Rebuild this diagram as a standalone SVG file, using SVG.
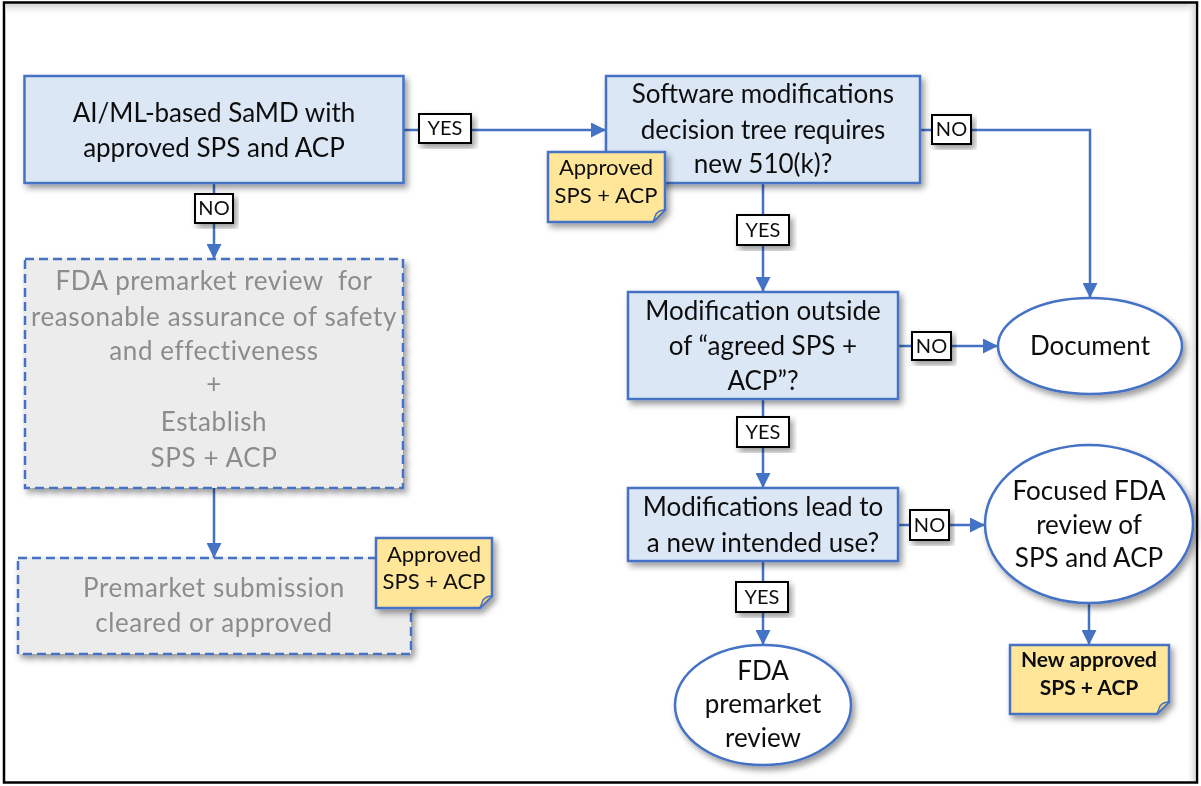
<svg xmlns="http://www.w3.org/2000/svg" width="1201" height="786" viewBox="0 0 1201 786">
<defs>
<style>
.proc{fill:#dce7f5;stroke:#4472c4;stroke-width:2.5}
.gray{fill:#ececec;stroke:#4472c4;stroke-width:2.5;stroke-dasharray:9 5}
.ell{fill:#ffffff;stroke:#4472c4;stroke-width:2.5}
.note{fill:#ffe699;stroke:#4472c4;stroke-width:2.5}
.fold{fill:#f0d27a;stroke:#4472c4;stroke-width:1.5}
.lab{fill:#ffffff;stroke:#000000;stroke-width:2}
.t{font-family:Lato,"Liberation Sans",sans-serif;font-size:26px;fill:#111111;text-anchor:middle}
.tg{font-family:Lato,"Liberation Sans",sans-serif;font-size:26px;fill:#8c8c8c;text-anchor:middle;letter-spacing:0.6px;white-space:pre}
.tn{font-family:Lato,"Liberation Sans",sans-serif;font-size:22px;fill:#111111;text-anchor:middle}
.tb{font-family:Lato,"Liberation Sans",sans-serif;font-size:21px;font-weight:bold;fill:#111111;text-anchor:middle}
.tl{font-family:Lato,"Liberation Sans",sans-serif;font-size:20px;fill:#111111;text-anchor:middle}
.conn{fill:none;stroke:#4472c4;stroke-width:2.5}
</style>
<marker id="arr" markerUnits="userSpaceOnUse" markerWidth="15" markerHeight="15" viewBox="0 0 10 10" refX="10" refY="5" orient="auto">
<path d="M0,0 L10,5 L0,10 z" fill="#4472c4"/>
</marker>
<filter id="sh" x="-10%" y="-10%" width="125%" height="130%">
<feDropShadow dx="3" dy="4" stdDeviation="3" flood-color="#000" flood-opacity="0.4"/>
</filter>
<linearGradient id="gt" x1="0" y1="0" x2="0" y2="1">
<stop offset="0" stop-color="#d4d4d4"/>
<stop offset="1" stop-color="#ffffff" stop-opacity="0"/>
</linearGradient>
<linearGradient id="gr" x1="0" y1="0" x2="1" y2="0">
<stop offset="0" stop-color="#ffffff" stop-opacity="0"/>
<stop offset="1" stop-color="#d4d4d4"/>
</linearGradient>
</defs>

<g id="frame">
<rect x="4" y="2.5" width="1193" height="780" fill="#ffffff" stroke="#000000" stroke-width="2.5"/>
<rect x="5.5" y="4" width="1190" height="12" fill="url(#gt)"/>
<rect x="1186" y="4" width="9.5" height="777" fill="url(#gr)"/>
</g>

<g id="connectors">
<path class="conn" d="M403.5,130 H606" marker-end="url(#arr)"/>
<path class="conn" d="M214,183 V259" marker-end="url(#arr)"/>
<path class="conn" d="M214,488 V558" marker-end="url(#arr)"/>
<path class="conn" d="M920,130 H1090 V298" marker-end="url(#arr)"/>
<path class="conn" d="M763,183 V292" marker-end="url(#arr)"/>
<path class="conn" d="M898,346 H998" marker-end="url(#arr)"/>
<path class="conn" d="M763,399 V488" marker-end="url(#arr)"/>
<path class="conn" d="M898,525 H985" marker-end="url(#arr)"/>
<path class="conn" d="M763,561 V645" marker-end="url(#arr)"/>
<path class="conn" d="M1089,603 V645" marker-end="url(#arr)"/>
</g>

<g id="n-samd" filter="url(#sh)">
<rect class="proc" x="24.5" y="76" width="379" height="107"/>
<text class="t" x="214" y="122">AI/ML-based SaMD with</text>
<text class="t" x="214" y="157">approved SPS and ACP</text>
</g>

<g id="n-fda-review" filter="url(#sh)">
<rect class="gray" x="25" y="259" width="378" height="229"/>
<text class="tg" x="214" y="290" xml:space="preserve">FDA premarket review  for</text>
<text class="tg" x="214" y="326">reasonable assurance of safety</text>
<text class="tg" x="214" y="360">and effectiveness</text>
<text class="tg" x="214" y="393">+</text>
<text class="tg" x="214" y="431">Establish</text>
<text class="tg" x="214" y="467">SPS + ACP</text>
</g>

<g id="n-premarket" filter="url(#sh)">
<rect class="gray" x="18" y="558" width="393" height="96"/>
<text class="tg" x="214" y="597">Premarket submission</text>
<text class="tg" x="214" y="632">cleared or approved</text>
</g>

<g id="n-decision-tree" filter="url(#sh)">
<rect class="proc" x="606" y="76" width="314" height="107"/>
<text class="t" x="763" y="103">Software modifications</text>
<text class="t" x="763" y="139">decision tree requires</text>
<text class="t" x="763" y="173">new 510(k)?</text>
</g>

<g id="n-outside" filter="url(#sh)">
<rect class="proc" x="628" y="292" width="270" height="107"/>
<text class="t" x="763" y="320">Modification outside</text>
<text class="t" x="763" y="355">of “agreed SPS +</text>
<text class="t" x="763" y="390">ACP”?</text>
</g>

<g id="n-intended" filter="url(#sh)">
<rect class="proc" x="628" y="488" width="270" height="73"/>
<text class="t" x="763" y="516">Modifications lead to</text>
<text class="t" x="763" y="552">a new intended use?</text>
</g>

<g id="n-document" filter="url(#sh)">
<ellipse class="ell" cx="1090" cy="346" rx="92" ry="48"/>
<text class="t" x="1090" y="355">Document</text>
</g>

<g id="n-focused" filter="url(#sh)">
<ellipse class="ell" cx="1089" cy="524" rx="104" ry="79"/>
<text class="t" x="1089" y="500">Focused FDA</text>
<text class="t" x="1089" y="534">review of</text>
<text class="t" x="1089" y="567">SPS and ACP</text>
</g>

<g id="n-fda-premarket" filter="url(#sh)">
<ellipse class="ell" cx="763" cy="705" rx="88" ry="60"/>
<text class="t" x="763" y="680">FDA</text>
<text class="t" x="763" y="713">premarket</text>
<text class="t" x="763" y="747">review</text>
</g>

<g id="note-1" filter="url(#sh)">
<path class="note" d="M548,152 H665 V210 L653,222 H548 Z"/>
<path class="fold" d="M653,222 L656,214 Q659,210 665,210 Z"/>
<text class="tn" x="606" y="175">Approved</text>
<text class="tn" x="606" y="203">SPS + ACP</text>
</g>

<g id="note-2" filter="url(#sh)">
<path class="note" d="M376,538 H492 V596 L480,608 H376 Z"/>
<path class="fold" d="M480,608 L483,600 Q486,596 492,596 Z"/>
<text class="tn" x="434" y="562">Approved</text>
<text class="tn" x="434" y="589">SPS + ACP</text>
</g>

<g id="note-3" filter="url(#sh)">
<path class="note" d="M1010,645 H1169 V702 L1157,714 H1010 Z"/>
<path class="fold" d="M1157,714 L1160,706 Q1163,702 1169,702 Z"/>
<text class="tb" x="1089" y="667">New approved</text>
<text class="tb" x="1089" y="695">SPS + ACP</text>
</g>

<g id="labels">
<g id="l-yes-1" filter="url(#sh)"><rect class="lab" x="419" y="114" width="52" height="29"/><text class="tl" x="445" y="135">YES</text></g>
<g id="l-no-1" filter="url(#sh)"><rect class="lab" x="195" y="194" width="38" height="29"/><text class="tl" x="214" y="215">NO</text></g>
<g id="l-no-2" filter="url(#sh)"><rect class="lab" x="932" y="115" width="39" height="29"/><text class="tl" x="951.5" y="136">NO</text></g>
<g id="l-yes-2" filter="url(#sh)"><rect class="lab" x="737" y="215" width="52" height="30"/><text class="tl" x="763" y="237">YES</text></g>
<g id="l-no-3" filter="url(#sh)"><rect class="lab" x="912" y="332" width="39" height="28"/><text class="tl" x="931.5" y="353">NO</text></g>
<g id="l-yes-3" filter="url(#sh)"><rect class="lab" x="737" y="417" width="52" height="30"/><text class="tl" x="763" y="439">YES</text></g>
<g id="l-no-4" filter="url(#sh)"><rect class="lab" x="910" y="510" width="39" height="30"/><text class="tl" x="929.5" y="532">NO</text></g>
<g id="l-yes-4" filter="url(#sh)"><rect class="lab" x="736" y="582" width="52" height="30"/><text class="tl" x="762" y="604">YES</text></g>
</g>
</svg>
